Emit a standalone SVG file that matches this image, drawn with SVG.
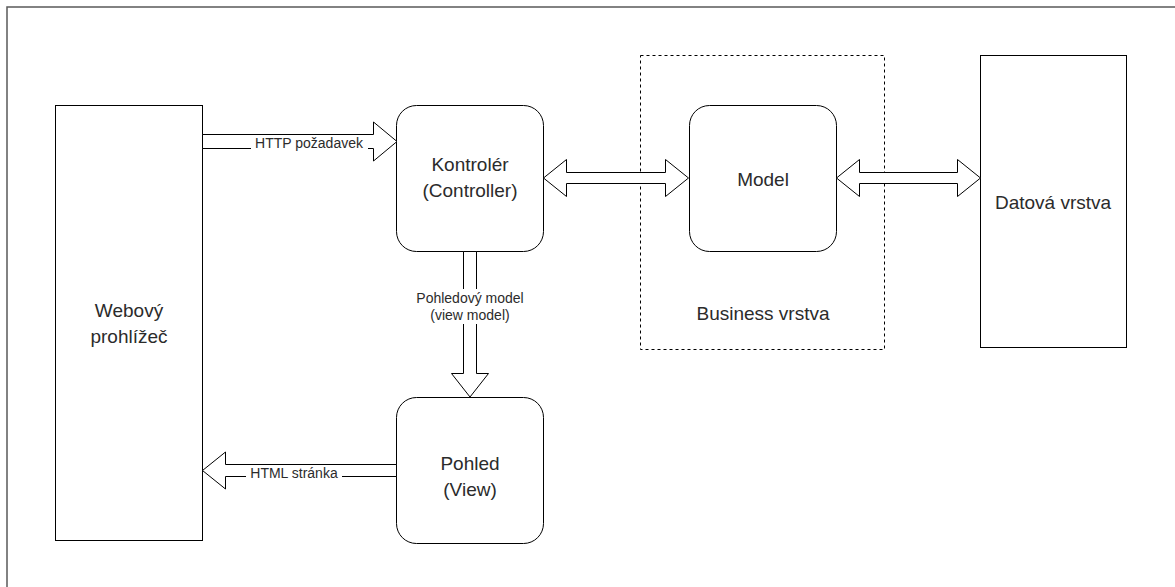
<svg xmlns="http://www.w3.org/2000/svg" width="1175" height="587" viewBox="0 0 1175 587">
  <style>
    .node { fill: #ffffff; stroke: #000000; stroke-width: 1; }
    .arrow { fill: #ffffff; stroke: #000000; stroke-width: 1; stroke-linejoin: miter; }
    .t { font-family: "Liberation Sans", Arial, sans-serif; font-size: 19px; fill: #2b2b2b; text-anchor: middle; }
    .lbl { font-family: "Liberation Sans", Arial, sans-serif; font-size: 14px; fill: #2b2b2b; text-anchor: middle; }
    .lblbg { fill: #ffffff; stroke: none; }
  </style>
  <rect x="0" y="0" width="1175" height="587" fill="#ffffff"/>
  <rect x="7" y="7" width="1200" height="620" fill="none" stroke="#5a5a5a" stroke-width="1.5"/>

  <g id="business">
    <rect x="640.5" y="55.5" width="244" height="294" fill="none" stroke="#000000" stroke-width="1" stroke-dasharray="3,3"/>
    <text class="t" x="763" y="320">Business vrstva</text>
  </g>

  <g id="browser">
    <rect class="node" x="55.5" y="105.5" width="147" height="435"/>
    <text class="t" x="129" y="317" font-size="18">Webový</text>
    <text class="t" x="129" y="343" font-size="18">prohlížeč</text>
  </g>

  <g id="controller">
    <rect class="node" x="396.5" y="105.5" width="147" height="146" rx="20" ry="20"/>
    <text class="t" x="470" y="171" font-size="20">Kontrolér</text>
    <text class="t" x="470" y="197" font-size="20">(Controller)</text>
  </g>

  <g id="view">
    <rect class="node" x="396.5" y="397.5" width="147" height="146" rx="20" ry="20"/>
    <text class="t" x="470" y="470">Pohled</text>
    <text class="t" x="470" y="496">(View)</text>
  </g>

  <g id="model">
    <rect class="node" x="689.5" y="105.5" width="147" height="146" rx="20" ry="20"/>
    <text class="t" x="763" y="186">Model</text>
  </g>

  <g id="data">
    <rect class="node" x="980.5" y="55.5" width="146" height="292"/>
    <text class="t" x="1053" y="209">Datová vrstva</text>
  </g>

  <g id="connectors">
    <polygon class="arrow" points="202.5,134.5 373.5,134.5 373.5,122 397,141.5 373.5,161 373.5,148.5 202.5,148.5"/>
    <rect class="lblbg" x="251" y="137" width="117" height="14"/>
    <text class="lbl" x="309" y="148">HTTP požadavek</text>

    <polygon class="arrow" points="543.5,178 566.5,159.5 566.5,172.5 665.5,172.5 665.5,159.5 688.5,178 665.5,196.5 665.5,183.5 566.5,183.5 566.5,196.5"/>

    <polygon class="arrow" points="836.5,178 859.5,159.5 859.5,172.5 957.5,172.5 957.5,159.5 980.5,178 957.5,196.5 957.5,183.5 859.5,183.5 859.5,196.5"/>

    <polygon class="arrow" points="463.5,251.5 476.5,251.5 476.5,373.5 488.5,373.5 470,397 451.5,373.5 463.5,373.5"/>
    <rect class="lblbg" x="410" y="289" width="120" height="35"/>
    <text class="lbl" x="470" y="303">Pohledový model</text>
    <text class="lbl" x="470" y="320">(view model)</text>

    <polygon class="arrow" points="396.5,464.5 225.5,464.5 225.5,452 202.5,470.5 225.5,489 225.5,476.5 396.5,476.5"/>
    <rect class="lblbg" x="246" y="467" width="96" height="14"/>
    <text class="lbl" x="294" y="478">HTML stránka</text>
  </g>
</svg>
